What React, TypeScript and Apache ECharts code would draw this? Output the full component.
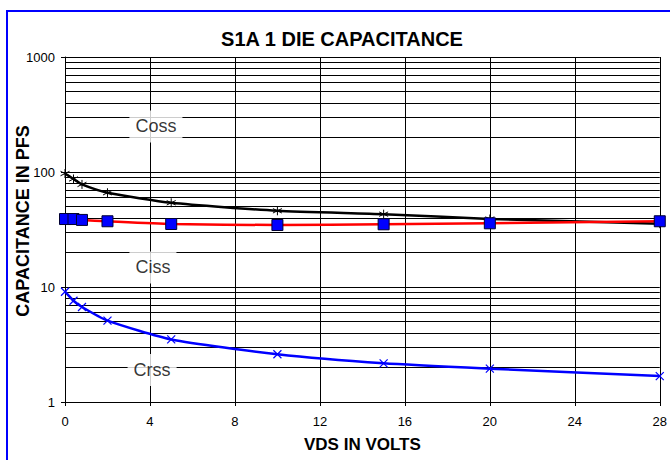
import React, { useEffect, useRef } from 'react';
import * as echarts from 'echarts';

// VDS (volts) at which each capacitance was measured
const vds = [0, 0.4, 0.8, 2, 5, 10, 15, 20, 28];
// capacitances in pF
const coss = [97, 87, 78, 66, 54, 46, 43, 39, 35.5];
const ciss = [39, 39, 38.3, 37.3, 35.3, 34.6, 35.1, 35.8, 37.3];
const crss = [9.1, 7.6, 6.7, 5.1, 3.5, 2.6, 2.17, 1.95, 1.68];

// curve name labels, anchored in data space
const curveLabels = ['Coss', 'Ciss', 'Crss'];
const curveLabelVds = [4.28, 4.14, 4.1];
const curveLabelPf = [249, 14.8, 1.9];

// minor horizontal grid values of the log axis
const minorGrid = [
  2, 3, 4, 5, 6, 7, 8, 9,
  20, 30, 40, 50, 60, 70, 80, 90,
  200, 300, 400, 500, 600, 700, 800, 900,
];

const FONT = "'Liberation Sans', Arial, sans-serif";
const asterisk = 'path://M5,0L5,10M0.7,2.5L9.3,7.5M0.7,7.5L9.3,2.5';
const cross = 'path://M0,0L10,10M10,0L0,10';

export default function App() {
  const ref = useRef<HTMLDivElement>(null);
  useEffect(() => {
    const chart = echarts.init(ref.current!, null, { renderer: 'svg' });
    const pairs = (ys: number[]) => vds.map((x, i) => [x, ys[i]]);
    chart.setOption({
      animation: false,
      backgroundColor: '#fff',
      grid: { left: 65, right: 9, top: 57, bottom: 58 },
      graphic: [
        {
          type: 'rect',
          shape: { x: 7, y: 11, width: 700, height: 500 },
          style: { fill: 'none', stroke: '#0000ff', lineWidth: 2 },
          silent: true,
        },
        {
          type: 'text',
          x: 342,
          y: 38.5,
          style: {
            text: 'S1A 1 DIE CAPACITANCE',
            font: `bold 20px ${FONT}`,
            fill: '#000',
            align: 'center',
            verticalAlign: 'middle',
          },
        },
        {
          type: 'text',
          x: 23,
          y: 221,
          rotation: Math.PI / 2,
          style: {
            text: 'CAPACITANCE IN PFS',
            font: `bold 18px ${FONT}`,
            fill: '#000',
            align: 'center',
            verticalAlign: 'middle',
          },
        },
      ],
      xAxis: {
        type: 'value',
        min: 0,
        max: 28,
        interval: 4,
        name: 'VDS IN VOLTS',
        nameLocation: 'middle',
        nameGap: 34,
        nameTextStyle: { fontFamily: FONT, fontWeight: 'bold', fontSize: 17, color: '#000' },
        axisLine: { lineStyle: { color: '#000', width: 1 } },
        axisTick: { show: true, inside: false, length: 4, lineStyle: { color: '#000' } },
        axisLabel: { fontFamily: FONT, fontSize: 13, color: '#000', margin: 13 },
        splitLine: { show: true, lineStyle: { color: '#000', width: 1 } },
      },
      yAxis: {
        type: 'log',
        logBase: 10,
        min: 1,
        max: 1000,
        axisLine: { show: true, lineStyle: { color: '#000', width: 1 } },
        axisTick: { show: true, inside: false, length: 4, lineStyle: { color: '#000' } },
        axisLabel: {
          fontFamily: FONT,
          fontSize: 13,
          color: '#000',
          margin: 10,
          formatter: (v: number) => String(Math.round(v)),
        },
        splitLine: { show: true, lineStyle: { color: '#000', width: 1 } },
      },
      series: [
        {
          name: 'Coss',
          type: 'line',
          data: pairs(coss),
          color: '#000',
          smooth: 0.2,
          symbol: asterisk,
          symbolSize: 9,
          itemStyle: { color: '#000', borderColor: '#000', borderWidth: 1 },
          lineStyle: { color: '#000', width: 2.5 },
          markLine: {
            silent: true,
            z: 1,
            symbol: 'none',
            label: { show: false },
            lineStyle: { color: '#000', width: 1, type: 'solid' },
            emphasis: { disabled: true },
            data: minorGrid.map((v) => ({ yAxis: v })),
          },
        },
        {
          name: 'Crss',
          type: 'line',
          data: pairs(crss),
          color: '#0000ff',
          smooth: 0.2,
          symbol: cross,
          symbolSize: 8,
          itemStyle: { color: '#0000ff', borderColor: '#0000ff', borderWidth: 1.2 },
          lineStyle: { color: '#0000ff', width: 2.5 },
        },
        {
          name: 'Ciss',
          type: 'line',
          data: pairs(ciss),
          color: '#0000ff',
          smooth: 0.2,
          symbol: 'rect',
          symbolSize: 11,
          itemStyle: { color: '#0000ff', borderColor: '#000033', borderWidth: 1 },
          lineStyle: { color: '#ff0000', width: 2.5 },
        },
        {
          name: 'labels',
          type: 'scatter',
          z: 10,
          silent: true,
          symbolSize: 1,
          itemStyle: { color: 'rgba(0,0,0,0)' },
          data: curveLabels.map((n, i) => ({ name: n, value: [curveLabelVds[i], curveLabelPf[i]] })),
          label: {
            show: true,
            position: 'inside',
            formatter: '{b}',
            fontFamily: FONT,
            fontSize: 18,
            color: '#000',
            backgroundColor: '#fff',
            padding: [7, 6],
          },
        },
      ],
    });
    return () => chart.dispose();
  }, []);
  return (
    <div
      ref={ref}
      style={{ position: 'fixed', left: 0, top: 0, width: 670, height: 460, background: '#fff' }}
    />
  );
}
